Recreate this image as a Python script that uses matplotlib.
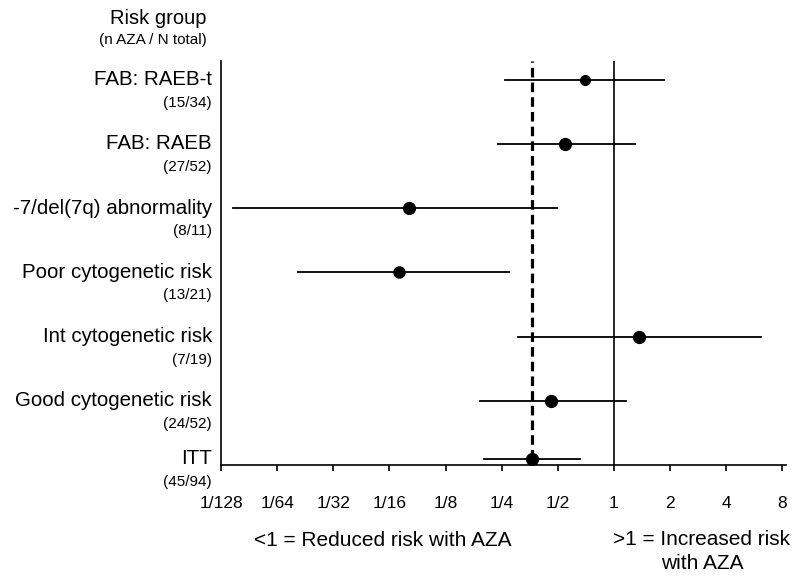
import numpy as np
import matplotlib
matplotlib.use("Agg")
import matplotlib.pyplot as plt

plt.rcParams['font.family'] = ['Liberation Sans', 'DejaVu Sans']

groups = ["FAB: RAEB-t", "FAB: RAEB", "-7/del(7q) abnormality", "Poor cytogenetic risk",
          "Int cytogenetic risk", "Good cytogenetic risk", "ITT"]
counts = ["(15/34)", "(27/52)", "(8/11)", "(13/21)", "(7/19)", "(24/52)", "(45/94)"]
hr = [0.696, 0.546, 0.080, 0.070, 1.37, 0.460, 0.364]
ci_low = [0.260, 0.239, 0.0091, 0.0201, 0.306, 0.191, 0.201]
ci_high = [1.866, 1.29, 0.497, 0.274, 6.15, 1.16, 0.654]
itt_hr = 0.364
tick_vals = [1/128, 1/64, 1/32, 1/16, 1/8, 1/4, 1/2, 1, 2, 4, 8]
tick_labels = ["1/128", "1/64", "1/32", "1/16", "1/8", "1/4", "1/2", "1", "2", "4", "8"]

# layout (row positions) and marker sizes (style)
ypos = [6, 5, 4, 3, 2, 1, 0.1]
marker_px = [7.0, 8.5, 8.5, 8.0, 8.5, 8.5, 8.5]

fig = plt.figure(figsize=(8.0, 5.81), dpi=100)
ax = fig.add_axes([221/800, 1-465/581, (786-221)/800, (465-61)/581])

ax.set_xscale('log', base=2)
ax.set_xlim(1/128, 2**3.066)
ax.set_ylim(0, 6.29)

# reference lines
ax.axvline(1, color='black', lw=1.2, zorder=1)
ax.plot([itt_hr, itt_hr], [ypos[-1], 6.29], color='black', lw=2.3,
        dashes=(3.0, 1.6), zorder=1, solid_capstyle='butt', dash_capstyle='butt')

for i in range(len(groups)):
    ax.plot([ci_low[i], ci_high[i]], [ypos[i], ypos[i]], color='black', lw=1.3, zorder=2)
    ax.plot([hr[i]], [ypos[i]], marker='o', color='black', markersize=marker_px[i], zorder=3)

# axes styling
for s in ['top', 'right']:
    ax.spines[s].set_visible(False)
ax.spines['left'].set_linewidth(1.2)
ax.spines['bottom'].set_linewidth(1.2)
ax.set_yticks([])
ax.set_xticks(tick_vals)
ax.set_xticklabels(tick_labels, fontsize=12.5)
ax.xaxis.set_minor_locator(matplotlib.ticker.NullLocator())
ax.tick_params(axis='x', direction='out', length=4.5, width=1.2, pad=18)

# group labels
for i in range(len(groups)):
    ax.annotate(groups[i], xy=(0, ypos[i]), xycoords=('axes fraction', 'data'),
                xytext=(-9, 0), textcoords='offset pixels', ha='right', va='center',
                fontsize=14.8)
    ax.annotate(counts[i], xy=(0, ypos[i]), xycoords=('axes fraction', 'data'),
                xytext=(-9, -23), textcoords='offset pixels', ha='right', va='center',
                fontsize=11)

fig.text(207/800, 1-18/581, "Risk group", ha='right', va='center', fontsize=14.5)
fig.text(207/800, 1-40/581, "(n AZA / N total)", ha='right', va='center', fontsize=11)

fig.text(383/800, 1-540/581, "<1 = Reduced risk with AZA", ha='center', va='center', fontsize=15)
fig.text(702/800, 1-551.5/581, ">1 = Increased risk\nwith AZA", ha='center', va='center',
         fontsize=15, linespacing=1.38)

fig.savefig("out.png", dpi=100)
